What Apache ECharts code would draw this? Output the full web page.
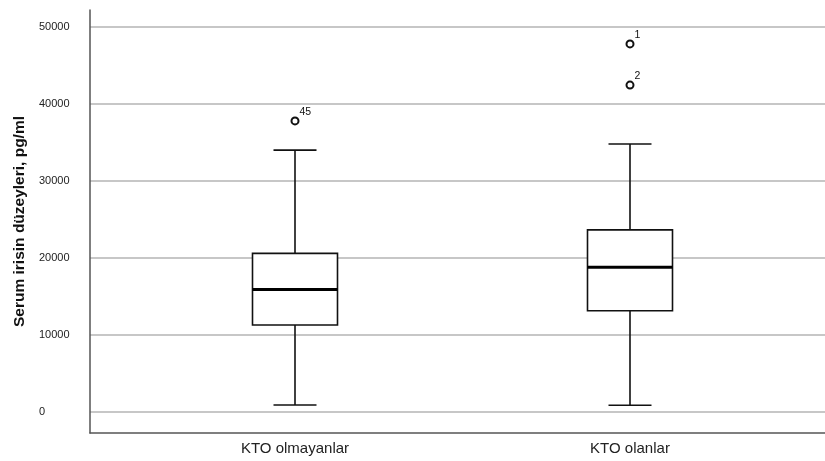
<!DOCTYPE html>
<html>
<head>
<meta charset="utf-8">
<script src="https://cdn.jsdelivr.net/npm/echarts@6/dist/echarts.min.js"></script>
<style>html,body{margin:0;padding:0;background:#fff}#c{width:825px;height:461px}</style>
</head>
<body>
<div id="c"></div>
<script>
// Data
const categories = ['KTO olmayanlar', 'KTO olanlar'];
const groupPositions = [1, 2];
// [min whisker, Q1, median, Q3, max whisker]
const boxStats = [
  [900, 11300, 15900, 20600, 34000],
  [870, 13150, 18800, 23650, 34800]
];
// outliers: [group position, value]
const outliers = [[1, 37800], [2, 47800], [2, 42450]];
const outlierLabels = ['45', '1', '2'];
const yTickLabels = ['0', '10000', '20000', '30000', '40000', '50000'];

const boxData = boxStats.map((s, i) => [groupPositions[i]].concat(s));
const outlierData = outliers.map((o, i) => ({ value: o, label: { formatter: outlierLabels[i] } }));

const chart = echarts.init(document.getElementById('c'), null, { renderer: 'canvas' });
const lineColor = '#111';
chart.setOption({
  animation: false,
  backgroundColor: '#fff',
  grid: { left: 90, right: 0, top: 10, bottom: 28, containLabel: false, outerBoundsMode: 'none' },
  xAxis: {
    type: 'value',
    min: 0.38806,
    max: 2.58209,
    splitLine: { show: false },
    axisTick: { show: false },
    axisLine: { show: true, onZero: false, lineStyle: { color: '#555', width: 1.5 } },
    axisLabel: {
      customValues: groupPositions,
      formatter: v => categories[groupPositions.indexOf(Math.round(v))] || '',
      fontFamily: 'Liberation Sans, Arial, sans-serif',
      fontSize: 15,
      color: '#222',
      margin: 8
    }
  },
  yAxis: {
    type: 'value',
    min: -2730,
    max: 52200,
    splitNumber: 5,
    minInterval: 10000,
    maxInterval: 10000,
    name: 'Serum irisin düzeyleri, pg/ml',
    nameLocation: 'middle',
    nameGap: 62,
    nameTextStyle: { fontFamily: 'Liberation Sans, Arial, sans-serif', fontSize: 15.5, fontWeight: 'bold', color: '#111' },
    axisLine: { show: true, onZero: false, lineStyle: { color: '#555', width: 1.5 } },
    axisTick: { show: false },
    axisLabel: {
      showMinLabel: false,
      showMaxLabel: false,
      align: 'left',
      margin: 51,
      fontFamily: 'Liberation Sans, Arial, sans-serif',
      fontSize: 11,
      color: '#222',
      formatter: v => yTickLabels[Math.round(v / 10000)] || ''
    },
    splitLine: { show: true, showMinLine: false, showMaxLine: false, lineStyle: { color: '#b4b4b4', width: 1.5 } }
  },
  series: [
    {
      type: 'custom',
      data: boxData,
      renderItem: function (params, api) {
        const x = api.value(0);
        const c = v => api.coord([x, v]);
        const lo = c(api.value(1)), q1 = c(api.value(2)), md = c(api.value(3)), q3 = c(api.value(4)), hi = c(api.value(5));
        const cx = lo[0];
        const bw = 85, cw = 43;
        const st = { stroke: lineColor, lineWidth: 1.6, fill: null };
        return {
          type: 'group',
          children: [
            { type: 'line', shape: { x1: cx, y1: q3[1], x2: cx, y2: hi[1] }, style: st },
            { type: 'line', shape: { x1: cx, y1: q1[1], x2: cx, y2: lo[1] }, style: st },
            { type: 'line', shape: { x1: cx - cw / 2, y1: hi[1], x2: cx + cw / 2, y2: hi[1] }, style: st },
            { type: 'line', shape: { x1: cx - cw / 2, y1: lo[1], x2: cx + cw / 2, y2: lo[1] }, style: st },
            { type: 'rect', shape: { x: cx - bw / 2, y: q3[1], width: bw, height: q1[1] - q3[1] }, style: { stroke: lineColor, lineWidth: 1.6, fill: '#fff' } },
            { type: 'line', shape: { x1: cx - bw / 2, y1: md[1], x2: cx + bw / 2, y2: md[1] }, style: { stroke: '#000', lineWidth: 3 } }
          ]
        };
      },
      z: 3
    },
    {
      type: 'scatter',
      data: outlierData,
      symbol: 'emptyCircle',
      symbolSize: 7,
      itemStyle: { color: '#111', borderWidth: 1.2, opacity: 1 },
      label: {
        show: true,
        position: 'right',
        offset: [-5, -9],
        fontFamily: 'Liberation Sans, Arial, sans-serif',
        fontSize: 10.5,
        color: '#111'
      },
      z: 4
    }
  ]
});
</script>
</body>
</html>
